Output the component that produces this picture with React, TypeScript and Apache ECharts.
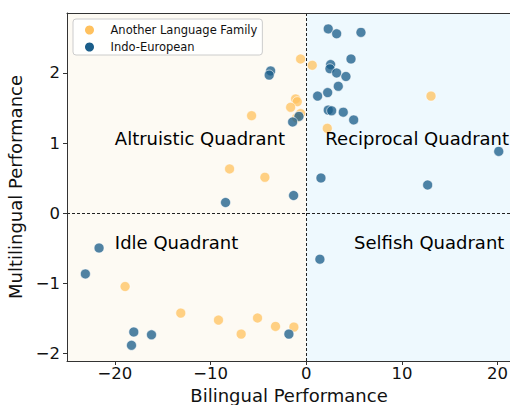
import React, { useEffect, useRef } from "react";
import * as echarts from "echarts";

// Another Language Family
const otherX = [-0.59, 0.63, -1.11, -0.94, -1.63, -5.71, -0.59, -1.0, -8.01, -4.32, 13.04, 2.2, -18.93, -13.11, -9.17, -5.09, -6.8, -3.21, -1.29];
const otherY = [2.2, 2.11, 1.63, 1.59, 1.51, 1.39, 1.42, 1.36, 0.63, 0.51, 1.67, 1.21, -1.05, -1.43, -1.53, -1.5, -1.73, -1.62, -1.63];

// Indo-European
const indoX = [-3.72, -3.87, -0.76, -1.42, 2.3, 3.18, 5.72, 4.68, 2.55, 2.48, 3.18, 4.15, 3.35, 1.19, 2.24, 2.3, 2.66, 3.87, 4.96, 20.12, 1.54, 12.69, -1.32, 1.43, -1.81, -8.43, -21.65, -23.08, -18.02, -16.17, -18.26];
const indoY = [2.03, 1.97, 1.38, 1.3, 2.63, 2.56, 2.58, 2.2, 2.12, 2.06, 2.0, 1.95, 1.81, 1.67, 1.72, 1.47, 1.46, 1.44, 1.33, 0.88, 0.5, 0.4, 0.25, -0.66, -1.73, 0.15, -0.5, -0.87, -1.7, -1.74, -1.89];

const seriesNames = ["Another Language Family", "Indo-European"];
const xTicks = [-20, -10, 0, 10, 20];
const yTicks = [-2, -1, 0, 1, 2];
const xRange = [-25, 21.4];
const yRange = [-2.114, 2.857];

const quadrantNames = ["Altruistic Quadrant", "Reciprocal Quadrant", "Idle Quadrant", "Selfish Quadrant"];
const quadrantX = [-20, 2, -20, 5];
const quadrantY = [1.06, 1.06, -0.42, -0.42];

const fmt = (v: number) => (v < 0 ? "\u2212" + Math.abs(v) : String(v));

export default function App() {
  const ref = useRef<HTMLDivElement>(null);
  useEffect(() => {
    const chart = echarts.init(ref.current!, null, { renderer: "svg" });
    const font = "DejaVu Sans";
    const axisCommon = {
      type: "value",
      z: 5,
      splitLine: { show: false },
      axisLine: { show: true, onZero: false, lineStyle: { color: "#333", width: 1 } },
    };
    chart.setOption({
      animation: false,
      textStyle: { fontFamily: font },
      grid: { left: 67, top: 13, width: 444, height: 348, outerBoundsMode: "none", containLabel: false },
      legend: {
        data: seriesNames,
        orient: "vertical",
        left: 73,
        top: 19,
        padding: [5, 5, 2, 12],
        itemGap: 5,
        itemWidth: 30,
        itemHeight: 9,
        icon: "circle",
        backgroundColor: "rgba(255,255,255,0.85)",
        borderColor: "#cccccc",
        borderWidth: 1,
        borderRadius: 3,
        itemStyle: { opacity: 1, borderWidth: 0 },
        textStyle: { fontFamily: font, fontSize: 11.5, color: "#111", padding: [0, 0, 0, 1] },
      },
      xAxis: [
        {
          ...axisCommon,
          min: xRange[0],
          max: xRange[1],
          name: "Bilingual Performance",
          nameLocation: "middle",
          nameGap: 25,
          nameTextStyle: { fontFamily: font, fontSize: 18, color: "#111" },
          axisTick: { show: true, length: 4, customValues: xTicks, lineStyle: { color: "#333" } },
          axisLabel: { customValues: xTicks, formatter: fmt, fontSize: 16.5, color: "#111", margin: 4 },
        },
        {
          ...axisCommon,
          position: "top",
          min: xRange[0],
          max: xRange[1],
          axisTick: { show: false },
          axisLabel: { show: false },
        },
      ],
      yAxis: {
        ...axisCommon,
        min: yRange[0],
        max: yRange[1],
        name: "Multilingual Performance",
        nameLocation: "middle",
        nameGap: 39,
        nameTextStyle: { fontFamily: font, fontSize: 18, color: "#111" },
        axisTick: { show: true, length: 4, customValues: yTicks, lineStyle: { color: "#333" } },
        axisLabel: { customValues: yTicks, formatter: fmt, fontSize: 16.5, color: "#111", margin: 7 },
      },
      series: [
        {
          name: "background",
          type: "scatter",
          data: [],
          silent: true,
          markArea: {
            silent: true,
            itemStyle: { borderWidth: 0 },
            data: [
              [
                { xAxis: xRange[0], yAxis: yRange[0], itemStyle: { color: "#FDFAF3" } },
                { xAxis: 0, yAxis: yRange[1] },
              ],
              [
                { xAxis: 0, yAxis: yRange[0], itemStyle: { color: "#EEF9FE" } },
                { xAxis: xRange[1], yAxis: yRange[1] },
              ],
            ],
          },
          markLine: {
            silent: true,
            symbol: "none",
            label: { show: false },
            lineStyle: { color: "#222", width: 1, type: [3, 2] },
            data: [{ xAxis: 0 }, { yAxis: 0 }],
          },
        },
        {
          name: seriesNames[0],
          type: "scatter",
          symbolSize: 10,
          data: otherX.map((x, i) => [x, otherY[i]]),
          itemStyle: { color: "#FFC15E", opacity: 0.75, borderColor: "#fff", borderWidth: 0.8 },
        },
        {
          name: seriesNames[1],
          type: "scatter",
          symbolSize: 10,
          data: indoX.map((x, i) => [x, indoY[i]]),
          itemStyle: { color: "#1B5E8A", opacity: 0.77, borderColor: "#fff", borderWidth: 0.8 },
        },
        {
          name: "quadrants",
          type: "scatter",
          silent: true,
          symbolSize: 0,
          z: 4,
          itemStyle: { opacity: 1 },
          data: quadrantNames.map((n, i) => [quadrantX[i], quadrantY[i], n]),
          label: {
            show: true,
            position: "inside",
            align: "left",
            verticalAlign: "middle",
            formatter: (p: any) => p.value[2],
            fontFamily: font,
            fontSize: 18,
            color: "#000",
            opacity: 1,
            textBorderWidth: 0,
          },
        },
      ],
    });
    return () => chart.dispose();
  }, []);
  return <div ref={ref} style={{ position: "absolute", left: 0, top: 0, width: 510, height: 405 }} />;
}
